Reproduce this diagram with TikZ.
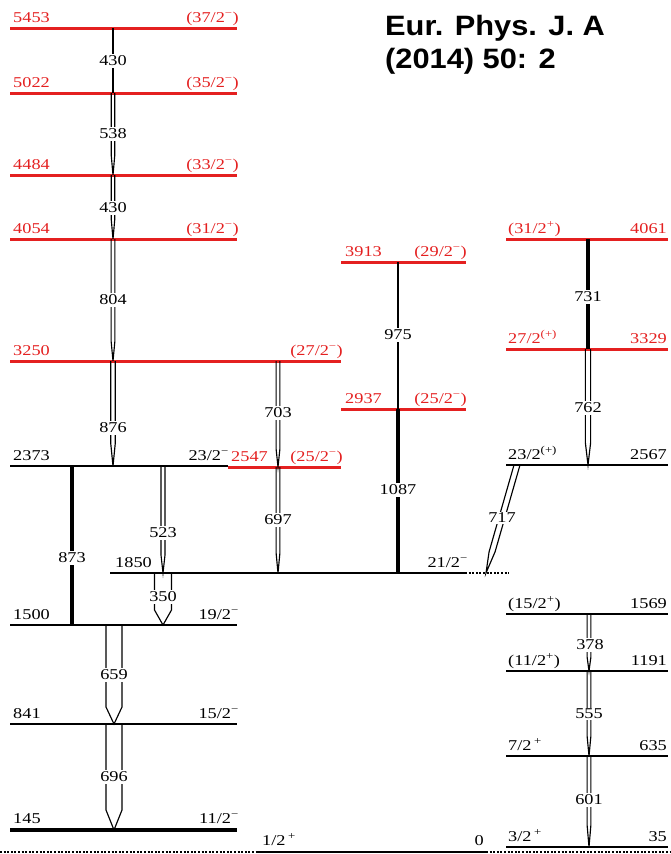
\documentclass[tikz,border=0pt]{standalone}
\usepackage{fontspec}
\setmainfont{Liberation Serif}
\newfontfamily\lvfont[FakeStretch=1.22]{Liberation Serif}
\newfontfamily\hdfont[FakeStretch=1.1]{Liberation Sans}
\usetikzlibrary{calc}
\definecolor{lvred}{RGB}{228,32,32}
\tikzset{
  blvl/.style={line width=1.3pt, black},
  rlvl/.style={line width=3pt, lvred},
  dotlvl/.style={line width=1.2pt, black, dash pattern=on 2pt off 1.6pt},
  gline/.style={line width=1.15pt, black},
  gthin/.style={line width=1.1pt, black},
  gthick/.style={line width=3.2pt, black},
  lab/.style={inner sep=0pt, font=\lvfont\fontsize{15}{15}\selectfont},
  llab/.style={lab, anchor=base west},
  rlab/.style={lab, anchor=base east},
  glab/.style={inner xsep=1pt, inner ysep=1.5pt, fill=white, font=\lvfont\fontsize{15}{15}\selectfont},
  hd/.style={inner sep=0pt, anchor=base west, font=\hdfont\bfseries\fontsize{28}{33}\selectfont}
}
\newcommand\dblg[4]{% top, bottom, halfwidth, taper
  \draw[gline] ($(#1)+(-#3,0)$) -- ($(#2)!#4pt!(#1)+(-#3,0)$) -- (#2) -- ($(#2)!#4pt!(#1)+(#3,0)$) -- ($(#1)+(#3,0)$);}
\newcommand\mi{\textsuperscript{−}}
\newcommand\pl{\textsuperscript{+}}
\begin{document}
\begin{tikzpicture}[x=1pt,y=-1pt]
\useasboundingbox (0,0) rectangle (671,854);

% ---------- levels ----------
% ground
\draw[dotlvl] (0,852) -- (671,852);
\draw[line width=1.4pt] (258,852) coordinate (G0a) -- (487,852) coordinate (G0b);
% left column
\draw[rlvl] (10,28) -- (237,28);
\draw[rlvl] (10,93) -- (237,93);
\draw[rlvl] (10,175) -- (237,175);
\draw[rlvl] (10,239) -- (237,239);
\draw[rlvl] (10,361) -- (341,361);
\draw[blvl] (10,466) -- (228,466);
\draw[rlvl] (228,467) -- (341,467);
\draw[rlvl] (341,262) -- (466,262);
\draw[rlvl] (341,409) -- (466,409);
\draw[blvl] (110,573) -- (465,573);
\draw[dotlvl] (465,573) -- (509,573);
\draw[blvl] (10,625) -- (237,625);
\draw[blvl] (10,724) -- (237,724);
\draw[line width=4pt] (10,830) -- (237,830);
% right column
\draw[rlvl] (506,239) -- (668,239);
\draw[rlvl] (506,349) -- (668,349);
\draw[blvl] (506,465) -- (668,465);
\draw[blvl] (506,614) -- (668,614);
\draw[blvl] (506,671) -- (668,671);
\draw[blvl] (506,756) -- (668,756);
\draw[blvl] (506,847) -- (668,847);

% ---------- level labels ----------
\begin{scope}[text=lvred]
\node[llab] (e5453) at (13,22) {5453};   \node[rlab] (j5453) at (239,22) {(37/2\mi)};
\node[llab] (e5022) at (13,87) {5022};   \node[rlab] (j5022) at (239,87) {(35/2\mi)};
\node[llab] (e4484) at (13,169) {4484};  \node[rlab] (j4484) at (239,169) {(33/2\mi)};
\node[llab] (e4054) at (13,233) {4054};  \node[rlab] (j4054) at (239,233) {(31/2\mi)};
\node[llab] (e3250) at (13,355) {3250};  \node[rlab] (j3250) at (343,355) {(27/2\mi)};
\node[llab] (e3913) at (345,256) {3913}; \node[rlab] (j3913) at (467,256) {(29/2\mi)};
\node[llab] (e2937) at (345,403) {2937}; \node[rlab] (j2937) at (467,403) {(25/2\mi)};
\node[llab] (e2547) at (231,461) {2547}; \node[rlab] (j2547) at (343,461) {(25/2\mi)};
\node[llab] (j4061) at (508,233) {(31/2\pl)}; \node[rlab] (e4061) at (667,233) {4061};
\node[llab] (j3329) at (508,343) {27/2\textsuperscript{(+)}}; \node[rlab] (e3329) at (667,343) {3329};
\end{scope}
\node[llab] (e2373) at (13,460) {2373};  \node[rlab] (j2373) at (229,460) {23/2\mi};
\node[llab] (e1850) at (115,567) {1850}; \node[rlab] (j1850) at (468,567) {21/2\mi};
\node[llab] (e1500) at (13,619) {1500};  \node[rlab] (j1500) at (239,619) {19/2\mi};
\node[llab] (e841) at (13,718) {841};    \node[rlab] (j841) at (239,718) {15/2\mi};
\node[llab] (e145) at (13,823) {145};    \node[rlab] (j145) at (239,823) {11/2\mi};
\node[llab] (j0) at (262,845) {1/2\,\pl};  \node[rlab] (e0) at (484,845) {0};
\node[llab] (j2567) at (508,459) {23/2\textsuperscript{(+)}}; \node[rlab] (e2567) at (667,459) {2567};
\node[llab] (j1569) at (508,608) {(15/2\pl)}; \node[rlab] (e1569) at (667,608) {1569};
\node[llab] (j1191) at (508,665) {(11/2\pl)}; \node[rlab] (e1191) at (667,665) {1191};
\node[llab] (j635) at (508,750) {7/2\,\pl};   \node[rlab] (e635) at (667,750) {635};
\node[llab] (j35) at (508,841) {3/2\,\pl};    \node[rlab] (e35) at (667,841) {35};

% ---------- transitions ----------
\coordinate (a430t) at (113,28);  \coordinate (a430b) at (113,93);
\coordinate (a538t) at (113,93);  \coordinate (a538b) at (113,175);
\coordinate (b430t) at (113,175); \coordinate (b430b) at (113,239);
\coordinate (a804t) at (113,239); \coordinate (a804b) at (113,361);
\coordinate (a876t) at (113,361); \coordinate (a876b) at (113,466);
\coordinate (a703t) at (278,361); \coordinate (a703b) at (278,467);
\coordinate (a697t) at (278,467); \coordinate (a697b) at (278,573);
\coordinate (a975t) at (398,262); \coordinate (a975b) at (398,409);
\coordinate (a1087t) at (398,409); \coordinate (a1087b) at (398,573);
\coordinate (a731t) at (588,239); \coordinate (a731b) at (588,349);
\coordinate (a762t) at (588,349); \coordinate (a762b) at (588,465);
\coordinate (a717t) at (517,465); \coordinate (a717b) at (486,573);
\coordinate (a873t) at (72,466);  \coordinate (a873b) at (72,625);
\coordinate (a523t) at (163,466); \coordinate (a523b) at (163,573);
\coordinate (a350t) at (163,573); \coordinate (a350b) at (163,625);
\coordinate (a659t) at (114,625); \coordinate (a659b) at (114,724);
\coordinate (a696t) at (114,724); \coordinate (a696b) at (114,830);
\coordinate (a378t) at (589,614); \coordinate (a378b) at (589,671);
\coordinate (a555t) at (589,671); \coordinate (a555b) at (589,756);
\coordinate (a601t) at (589,756); \coordinate (a601b) at (589,847);

\draw[gthin] (a430t) -- (a430b);
\dblg{a538t}{a538b}{1.8}{20}
\dblg{b430t}{b430b}{1.8}{20}
\dblg{a804t}{a804b}{1.9}{20}
\dblg{a876t}{a876b}{2.2}{22}
\dblg{a703t}{a703b}{1.9}{18}
\dblg{a697t}{a697b}{1.9}{20}
\draw[gthin] (a975t) -- (a975b);
\draw[gthick] (a1087t) -- (a1087b);
\draw[gthick] (a731t) -- (a731b);
\dblg{a762t}{a762b}{2.6}{22}
\dblg{a717t}{a717b}{3}{22}
\draw[gthick] (a873t) -- (a873b);
\dblg{a523t}{a523b}{2}{18}
\dblg{a350t}{a350b}{8.5}{15}
\dblg{a659t}{a659b}{8}{17}
\dblg{a696t}{a696b}{8}{20}
\dblg{a378t}{a378b}{1.9}{14}
\dblg{a555t}{a555b}{1.9}{20}
\dblg{a601t}{a601b}{1.9}{22}

% ---------- transition labels ----------
\node[glab] (g430a) at (113,61) {430};
\node[glab] (g538) at (113,134) {538};
\node[glab] (g430b) at (113,208) {430};
\node[glab] (g804) at (113,300) {804};
\node[glab] (g876) at (113,428) {876};
\node[glab] (g703) at (278,413) {703};
\node[glab] (g697) at (278,520) {697};
\node[glab] (g975) at (398,335) {975};
\node[glab] (g1087) at (398,490) {1087};
\node[glab] (g731) at (588,297) {731};
\node[glab] (g762) at (588,408) {762};
\node[glab] (g717) at (502,518) {717};
\node[glab] (g873) at (72,558) {873};
\node[glab] (g523) at (163,533) {523};
\node[glab] (g350) at (163,597) {350};
\node[glab] (g659) at (114,675) {659};
\node[glab] (g696) at (114,777) {696};
\node[glab] (g378) at (590,645) {378};
\node[glab] (g555) at (589,714) {555};
\node[glab] (g601) at (589,800) {601};

% ---------- heading ----------
\node[hd] (h1) at (385,35) {Eur. Phys. J. A};
\node[hd] (h2) at (385,68.5) {(2014) 50: 2};
\end{tikzpicture}
\end{document}
